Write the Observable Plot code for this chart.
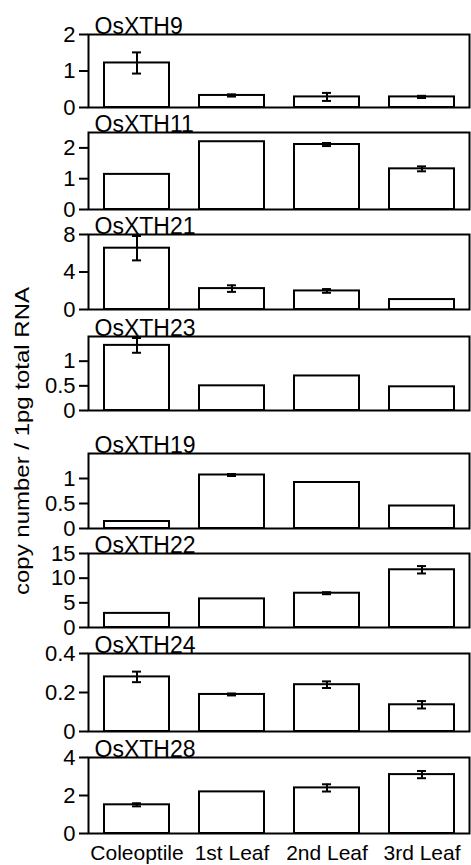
<!DOCTYPE html>
<html><head><meta charset="utf-8">
<script src="https://cdn.jsdelivr.net/npm/d3@7"></script>
<script src="https://cdn.jsdelivr.net/npm/@observablehq/plot@0.6"></script>
<style>
body{margin:0;background:#fff;}
#chart{position:relative;width:471px;height:865px;overflow:hidden;font-family:"Liberation Sans",Arial,Helvetica,sans-serif;}
#chart svg{position:absolute;left:0;overflow:visible;}
</style></head><body><div id="chart"></div>
<script>
const categories = ["Coleoptile", "1st Leaf", "2nd Leaf", "3rd Leaf"];
const genes = ["OsXTH9", "OsXTH11", "OsXTH21", "OsXTH23", "OsXTH19", "OsXTH22", "OsXTH24", "OsXTH28"];

const xth9   = [1.22, 0.33, 0.29, 0.29];
const xth11  = [1.14, 2.20, 2.11, 1.32];
const xth21  = [6.54, 2.23, 1.98, 1.06];
const xth23  = [1.32, 0.50, 0.70, 0.48];
const xth19  = [0.14, 1.07, 0.92, 0.45];
const xth22  = [2.86, 5.80, 6.95, 11.70];
const xth24  = [0.28, 0.19, 0.24, 0.137];
const xth28  = [1.51, 2.19, 2.40, 3.10];

const err9   = [0.29, 0.03, 0.11, 0.03];
const err11  = [0, 0, 0.05, 0.08];
const err21  = [1.3, 0.35, 0.2, 0];
const err23  = [0.15, 0, 0, 0];
const err19  = [0, 0.02, 0, 0];
const err22  = [0, 0, 0.2, 0.75];
const err24  = [0.027, 0.005, 0.017, 0.019];
const err28  = [0.08, 0, 0.19, 0.19];

const values = [xth9, xth11, xth21, xth23, xth19, xth22, xth24, xth28];
const errors = [err9, err11, err21, err23, err19, err22, err24, err28];

const yMax   = [2, 2.5, 8, 1.5, 1.5, 15, 0.4, 4];
const yTicks = [[0, 1, 2], [0, 1, 2], [0, 4, 8], [0, 0.5, 1], [0, 0.5, 1], [0, 5, 10, 15], [0, 0.2, 0.4], [0, 2, 4]];

const yLabel = "copy number / 1pg total RNA";

// layout: frame top / bottom of each panel (pixels)
const frameTop    = [34, 132, 234, 336, 453, 553, 653, 757];
const frameBottom = [107, 209, 309, 410, 528, 627, 731, 833];

const chart = document.getElementById("chart");
const font = '"Liberation Sans", Arial, Helvetica, sans-serif';

genes.forEach((gene, i) => {
  const rows = categories.map((c, j) => ({cat: c, value: values[i][j], err: errors[i][j]}));
  const errRows = rows.filter(d => d.err > 0);
  const last = i === genes.length - 1;
  const mt = 30, mb = last ? 34 : 4;
  const plot = Plot.plot({
    width: 471,
    height: (frameBottom[i] - frameTop[i]) + mt + mb,
    marginLeft: 88, marginRight: 2, marginTop: mt, marginBottom: mb,
    style: {fontFamily: font, color: "black", background: "transparent", overflow: "visible"},
    x: {domain: categories, paddingInner: 0.32, paddingOuter: 0.16, axis: null},
    y: {domain: [0, yMax[i]], axis: null},
    marks: [
      Plot.barY(rows, {x: "cat", y: "value", fill: "white", stroke: "black", strokeWidth: 2}),
      Plot.ruleX(errRows, {x: "cat", y1: d => d.value - d.err, y2: d => d.value + d.err, stroke: "black", strokeWidth: 2}),
      Plot.tickY(errRows, {x: "cat", y: d => d.value + d.err, insetLeft: 28, insetRight: 28, stroke: "black", strokeWidth: 2}),
      Plot.tickY(errRows, {x: "cat", y: d => d.value - d.err, insetLeft: 28, insetRight: 28, stroke: "black", strokeWidth: 2}),
      Plot.frame({stroke: "black", strokeWidth: 2}),
      Plot.axisY({ticks: yTicks[i], tickSize: 9, tickPadding: 4, tickFormat: d => String(d), fontSize: 22, strokeWidth: 2, label: null}),
      last ? Plot.axisX({tickSize: 0, tickPadding: 12, fontSize: 21, label: null}) : null,
      Plot.text([gene], {text: d => d, frameAnchor: "top-left", textAnchor: "start", lineAnchor: "bottom", dx: 6, dy: -1, fontSize: 23})
    ]
  });
  plot.style.top = (frameTop[i] - mt) + "px";
  chart.appendChild(plot);
});

// rotated y-axis title
const svg = d3.select(chart).append("svg").attr("width", 40).attr("height", 865).style("top", "0px");
svg.append("text")
  .attr("transform", "translate(29,441) rotate(-90)")
  .attr("text-anchor", "middle")
  .attr("font-family", font)
  .attr("font-size", 21)
  .attr("textLength", 308)
  .attr("lengthAdjust", "spacingAndGlyphs")
  .text(yLabel);
</script></body></html>
